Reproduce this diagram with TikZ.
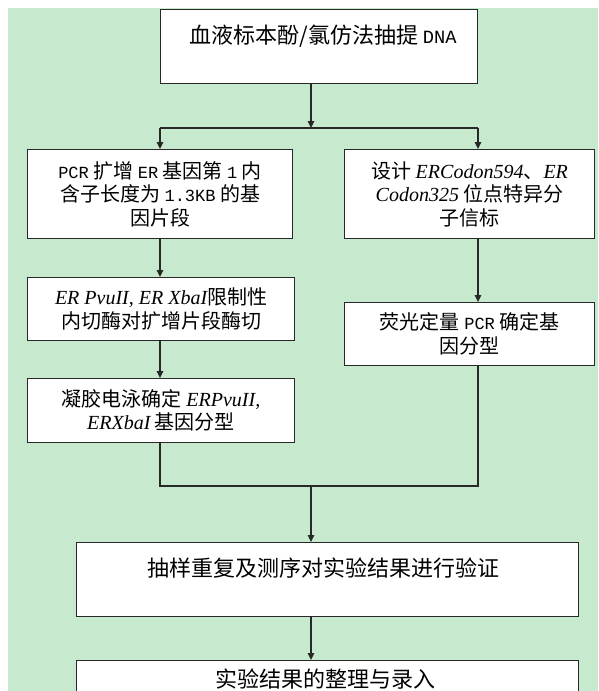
\documentclass[tikz,border=0pt]{standalone}
\usepackage{fontspec}
\setmainfont{Noto Sans CJK SC}
\newfontfamily\monofam[Scale=0.85]{Liberation Mono}
\newfontfamily\timfam{Liberation Serif}
\usetikzlibrary{arrows.meta}
\definecolor{bg}{RGB}{199,234,206}
\definecolor{ln}{RGB}{40,40,40}
\newcommand{\lt}[1]{{\monofam #1}}
\newcommand{\ii}[1]{{\timfam\itshape #1}}
\begin{document}
\begin{tikzpicture}[x=1pt,y=-1pt,
 box/.style={draw=ln, line width=1.2pt, fill=white, rectangle, inner sep=0pt, anchor=north west, align=center, font=\fontsize{20}{23.5}\selectfont},
 big/.style={font=\fontsize{22}{26}\selectfont, inner sep=0pt},
 arr/.style={draw=ln, line width=1.2pt, -{Triangle[length=7pt,width=6.5pt]}},
 lin/.style={draw=ln, line width=1.2pt}]
\useasboundingbox (0,0) rectangle (598,691);
\clip (0,0) rectangle (598,691);
\fill[white] (0,0) rectangle (598,691);
\fill[bg] (8,8) rectangle (598,691);
% boxes
\node[box, minimum width=317pt, minimum height=74pt] (dna) at (160,9) {};
\node[big] (dnat) at (323,36) {血液标本酚/氯仿法抽提 \lt{DNA}};
\node[box, minimum width=265pt, minimum height=89pt] (pcr) at (27,149)
  {\lt{PCR} 扩增 \lt{ER} 基因第 \lt{1} 内\\含子长度为 \lt{1.3KB} 的基\\因片段};
\node[box, minimum width=250pt, minimum height=89pt] (design) at (344,149)
  {设计 \ii{ERCodon594}、\ii{ER}\\\ii{Codon325} 位点特异分\\子信标};
\node[box, minimum width=267pt, minimum height=63pt] (enz) at (27,277)
  {\ii{ER PvuII, ER XbaI}限制性\\内切酶对扩增片段酶切};
\node[box, minimum width=250pt, minimum height=63pt] (qpcr) at (344,302)
  {荧光定量 \lt{PCR} 确定基\\因分型};
\node[box, minimum width=267pt, minimum height=64pt] (gel) at (27,378)
  {凝胶电泳确定 \ii{ERPvuII,}\\\ii{ERXbaI} 基因分型};
\node[box, minimum width=502pt, minimum height=74pt] (verify) at (76,542) {};
\node[big] (verifyt) at (323,568) {抽样重复及测序对实验结果进行验证};
\node[box, minimum width=502pt, minimum height=70pt] (final) at (76,660) {};
\node[big] (finalt) at (325,679) {实验结果的整理与录入};
% connectors
\coordinate (split) at (311,128);
\coordinate (sl) at (160,128);
\coordinate (sr) at (478,128);
\coordinate (jl) at (160,486);
\coordinate (jr) at (478,486);
\coordinate (join) at (311,486);
\draw[arr] (split |- dna.south) -- (split);
\draw[lin] (sl) -- (sr);
\draw[arr] (sl) -- (sl |- pcr.north);
\draw[arr] (sr) -- (sr |- design.north);
\draw[arr] (sl |- pcr.south) -- (sl |- enz.north);
\draw[arr] (sl |- enz.south) -- (sl |- gel.north);
\draw[arr] (sr |- design.south) -- (sr |- qpcr.north);
\draw[lin] (jl |- gel.south) -- (jl) -- (jr) -- (jr |- qpcr.south);
\draw[arr] (join) -- (join |- verify.north);
\draw[arr] (join |- verify.south) -- (join |- final.north);
\end{tikzpicture}
\end{document}
